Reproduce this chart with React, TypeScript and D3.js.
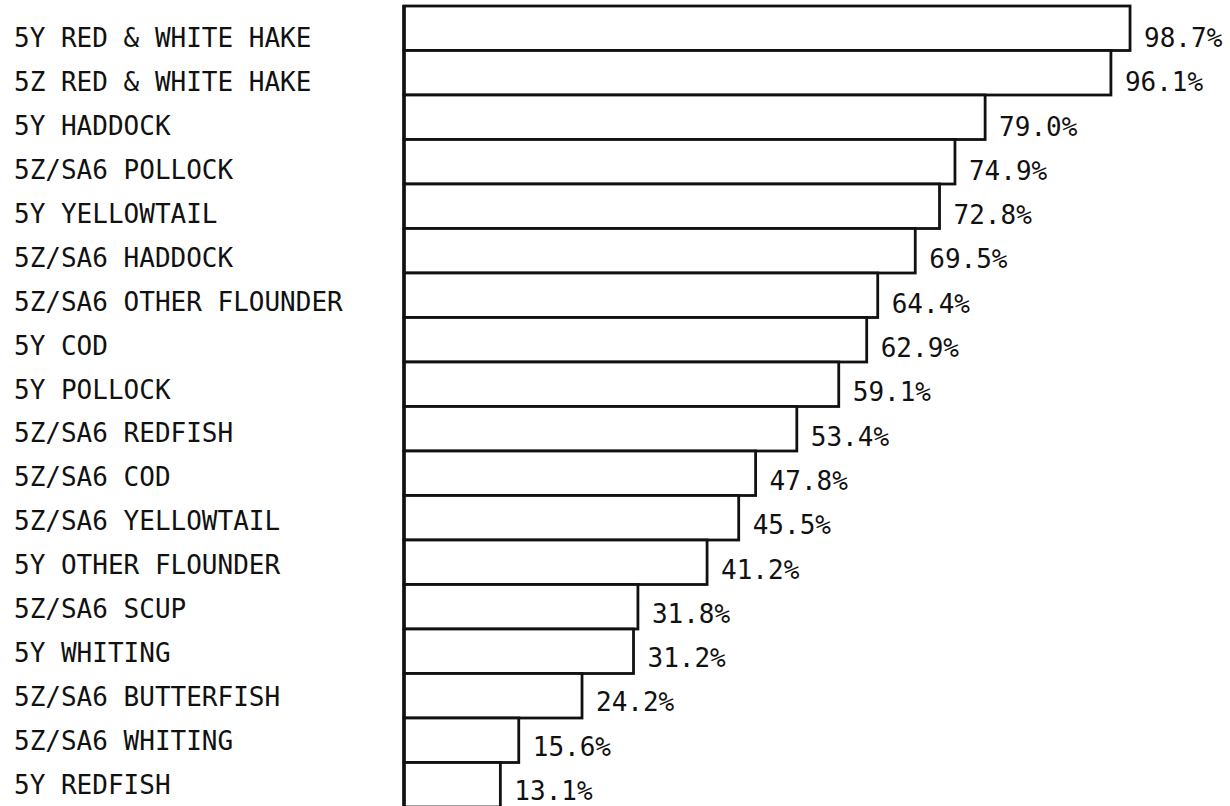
import React, { useEffect, useRef } from "react";
import * as d3 from "d3";

// 종목별 비율 데이터
const species: string[] = [
  "5Y RED & WHITE HAKE",
  "5Z RED & WHITE HAKE",
  "5Y HADDOCK",
  "5Z/SA6 POLLOCK",
  "5Y YELLOWTAIL",
  "5Z/SA6 HADDOCK",
  "5Z/SA6 OTHER FLOUNDER",
  "5Y COD",
  "5Y POLLOCK",
  "5Z/SA6 REDFISH",
  "5Z/SA6 COD",
  "5Z/SA6 YELLOWTAIL",
  "5Y OTHER FLOUNDER",
  "5Z/SA6 SCUP",
  "5Y WHITING",
  "5Z/SA6 BUTTERFISH",
  "5Z/SA6 WHITING",
  "5Y REDFISH",
];

const percents: number[] = [
  98.7, 96.1, 79.0, 74.9, 72.8, 69.5, 64.4, 62.9, 59.1, 53.4, 47.8, 45.5, 41.2,
  31.8, 31.2, 24.2, 15.6, 13.1,
];

const WIDTH = 1230;
const HEIGHT = 806;
const FONT = "'DejaVu Sans Mono', 'Liberation Mono', monospace";

const App: React.FC = () => {
  const svgRef = useRef<SVGSVGElement>(null);

  useEffect(() => {
    if (!svgRef.current) return;
    const svg = d3.select(svgRef.current);
    svg.selectAll("*").remove();

    const left = 404;
    const top = 6;
    const band = 44.5;

    const x = d3.scaleLinear().domain([0, 100]).range([left, left + 735.6]);
    const y = d3
      .scaleBand<string>()
      .domain(species)
      .range([top, top + band * species.length])
      .paddingInner(0)
      .paddingOuter(0);

    // 라벨 기준선 (원본은 막대보다 촘촘하게 찍혀 있음)
    const yName = d3.scalePoint<string>().domain(species).range([47, 794]);
    const yValue = d3.scalePoint<string>().domain(species).range([47, 800]);

    const rows = species.map((name, i) => ({ name, value: percents[i] }));

    // 막대
    svg
      .append("g")
      .selectAll("rect")
      .data(rows)
      .enter()
      .append("rect")
      .attr("x", x(0))
      .attr("y", (d) => y(d.name)!)
      .attr("width", (d) => x(d.value) - x(0))
      .attr("height", y.bandwidth())
      .attr("fill", "white")
      .attr("stroke", "#111")
      .attr("stroke-width", 2.8);

    // 왼쪽 축선
    svg
      .append("line")
      .attr("x1", x(0))
      .attr("x2", x(0))
      .attr("y1", top - 1)
      .attr("y2", HEIGHT)
      .attr("stroke", "#111")
      .attr("stroke-width", 3.5);

    // 종목 라벨
    svg
      .append("g")
      .selectAll("text")
      .data(rows)
      .enter()
      .append("text")
      .attr("x", 14)
      .attr("y", (d) => yName(d.name)!)
      .style("font-family", FONT)
      .style("font-size", "26px")
      .style("fill", "#111")
      .text((d) => d.name);

    // 수치 라벨
    svg
      .append("g")
      .selectAll("text")
      .data(rows)
      .enter()
      .append("text")
      .attr("x", (d) => x(d.value) + 14)
      .attr("y", (d) => yValue(d.name)!)
      .style("font-family", FONT)
      .style("font-size", "26px")
      .style("fill", "#111")
      .text((d) => `${d.value.toFixed(1)}%`);
  }, []);

  return (
    <svg
      ref={svgRef}
      width={WIDTH}
      height={HEIGHT}
      style={{ position: "absolute", left: 0, top: 0, background: "white" }}
    />
  );
};

export default App;
